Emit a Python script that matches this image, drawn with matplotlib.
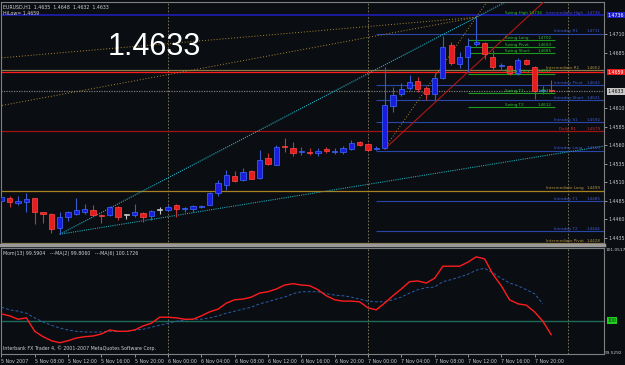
import matplotlib.pyplot as plt
import numpy as np

BG = "#0a0d12"

# EURUSD H1 candles, first bar 5 Nov 04:00
opens = [1.4485, 1.4489, 1.4482, 1.4484, 1.4489, 1.4470, 1.4467, 1.4448, 1.4463, 1.4467,
         1.4470, 1.4473, 1.4466, 1.4466, 1.4477, 1.4466, 1.4466, 1.4469, 1.4465, 1.4473,
         1.4473, 1.4480, 1.4474, 1.4474, 1.4477, 1.4480, 1.4496, 1.4506, 1.4519, 1.4513,
         1.4525, 1.4516, 1.4543, 1.4534, 1.4559, 1.4556, 1.4551, 1.4551, 1.4550, 1.4555,
         1.4551, 1.4551, 1.4555, 1.4565, 1.4562, 1.4555, 1.4556, 1.4613, 1.4629, 1.4637,
         1.4647, 1.4637, 1.4629, 1.4651, 1.4696, 1.4670, 1.4679, 1.4697, 1.4698, 1.4679,
         1.4667, 1.4667, 1.4658, 1.4675, 1.4666, 1.4633, 1.4635]
highs = [1.4492, 1.4492, 1.4492, 1.4496, 1.4489, 1.4470, 1.4469, 1.4470, 1.4471, 1.4489,
         1.4481, 1.4480, 1.4467, 1.4478, 1.4478, 1.4467, 1.4481, 1.4470, 1.4473, 1.4477,
         1.4479, 1.4481, 1.4477, 1.4480, 1.4480, 1.4497, 1.4513, 1.4527, 1.4525, 1.4529,
         1.4527, 1.4554, 1.4550, 1.4560, 1.4570, 1.4565, 1.4558, 1.4556, 1.4556, 1.4558,
         1.4556, 1.4559, 1.4567, 1.4566, 1.4563, 1.4559, 1.4666, 1.4639, 1.4644, 1.4655,
         1.4652, 1.4640, 1.4658, 1.4708, 1.4700, 1.4686, 1.4705, 1.4734, 1.4700, 1.4689,
         1.4671, 1.4669, 1.4678, 1.4677, 1.4667, 1.4640, 1.4648]
lows = [1.4484, 1.4477, 1.4480, 1.4470, 1.4454, 1.4455, 1.4442, 1.4440, 1.4458, 1.4466,
        1.4467, 1.4465, 1.4455, 1.4465, 1.4459, 1.4461, 1.4463, 1.4457, 1.4459, 1.4467,
        1.4472, 1.4463, 1.4470, 1.4470, 1.4476, 1.4479, 1.4492, 1.4500, 1.4511, 1.4512,
        1.4514, 1.4515, 1.4534, 1.4533, 1.4551, 1.4546, 1.4547, 1.4547, 1.4546, 1.4550,
        1.4548, 1.4548, 1.4554, 1.4559, 1.4552, 1.4554, 1.4555, 1.4605, 1.4627, 1.4635,
        1.4632, 1.4621, 1.4621, 1.4650, 1.4669, 1.4664, 1.4659, 1.4694, 1.4677, 1.4662,
        1.4662, 1.4655, 1.4655, 1.4669, 1.4623, 1.4630, 1.4632]
closes = [1.4490, 1.4484, 1.4485, 1.4488, 1.4470, 1.4467, 1.4447, 1.4463, 1.4470, 1.4473,
          1.4474, 1.4466, 1.4465, 1.4477, 1.4463, 1.4466, 1.4470, 1.4463, 1.4472, 1.4473,
          1.4477, 1.4474, 1.4476, 1.4478, 1.4478, 1.4496, 1.4509, 1.4520, 1.4512, 1.4524,
          1.4515, 1.4540, 1.4535, 1.4558, 1.4558, 1.4550, 1.4552, 1.4550, 1.4552, 1.4552,
          1.4552, 1.4556, 1.4563, 1.4560, 1.4554, 1.4556, 1.4614, 1.4628, 1.4636, 1.4646,
          1.4636, 1.4629, 1.4651, 1.4693, 1.4671, 1.4679, 1.4694, 1.4700, 1.4683, 1.4666,
          1.4669, 1.4658, 1.4675, 1.4670, 1.4633, 1.4635, 1.4633]

# momentum pane
mom_ma2 = [100.10, 100.07, 100.02, 100.04, 99.84, 99.76, 99.70, 99.67, 99.70, 99.74,
           99.76, 99.77, 99.80, 99.86, 99.84, 99.84, 99.86, 99.92, 99.96, 100.05,
           100.05, 100.04, 100.02, 100.02, 100.07, 100.13, 100.17, 100.26, 100.31, 100.32,
           100.35, 100.41, 100.43, 100.47, 100.53, 100.55, 100.53, 100.52, 100.46, 100.37,
           100.31, 100.29, 100.29, 100.28, 100.19, 100.16, 100.26, 100.37, 100.47, 100.58,
           100.59, 100.56, 100.63, 100.81, 100.81, 100.81, 100.87, 100.95, 100.92, 100.69,
           100.52, 100.31, 100.25, 100.23, 100.13, 99.99, 99.79]
mom_ma6 = [100.20, 100.16, 100.14, 100.11, 100.04, 99.98, 99.93, 99.89, 99.86, 99.84,
           99.83, 99.83, 99.83, 99.84, 99.84, 99.84, 99.86, 99.87, 99.90, 99.93,
           99.96, 99.99, 100.01, 100.02, 100.02, 100.04, 100.07, 100.11, 100.14, 100.17,
           100.20, 100.25, 100.28, 100.32, 100.35, 100.40, 100.43, 100.43, 100.43, 100.40,
           100.38, 100.37, 100.35, 100.32, 100.29, 100.28, 100.28, 100.31, 100.35, 100.41,
           100.46, 100.49, 100.50, 100.58, 100.61, 100.65, 100.69, 100.75, 100.78, 100.71,
           100.63, 100.56, 100.52, 100.46, 100.40, 100.25, np.nan]

time_labels = ["5 Nov 2007", "5 Nov 08:00", "5 Nov 12:00", "5 Nov 16:00", "5 Nov 20:00",
               "6 Nov 00:00", "6 Nov 04:00", "6 Nov 08:00", "6 Nov 12:00", "6 Nov 16:00",
               "6 Nov 20:00", "7 Nov 00:00", "7 Nov 04:00", "7 Nov 08:00", "7 Nov 12:00",
               "7 Nov 16:00", "7 Nov 20:00"]
time_ticks = list(range(0, 68, 4))
day_breaks = [20, 44, 68]

price_ticks = [1.4710, 1.4685, 1.4610, 1.4585, 1.4560, 1.4535, 1.4510, 1.4485, 1.4460, 1.4435]

full_levels = [("Intermediate High", 1.4736, "#1e1eb4"),
               ("Intermediate R1", 1.4662, "#8a7a48"),
               ("", 1.4659, "#ff1c1c"),
               ("", 1.4633, "#7c7c7c"),
               ("Daily R1", 1.4579, "#a01414"),
               ("Intermediate Long", 1.4499, "#a88420"),
               ("Intermediate Pivot", 1.4428, "#8a7a48")]
intraday_names = ["Intraday R1", "Intraday Pivot", "Intraday Short", "Intraday S1",
                  "Intraday Long", "Intraday T1", "Intraday T2"]
intraday_prices = [1.4711, 1.4642, 1.4621, 1.4592, 1.4553, 1.4485, 1.4444]
swing_names = ["Swing High", "Swing Long", "Swing Pivot", "Swing Short", "Swing Entry",
               "Swing T1", "Swing T2"]
swing_prices = [1.4736, 1.4702, 1.4693, 1.4685, 1.4657, 1.4631, 1.4612]

X0, X1 = -0.05, 72.34
Y0, Y1 = 1.44255, 1.47536
FS = 3.0     # level label size
AFS = 3.4    # axis text size

fig = plt.figure(figsize=(6.25, 3.65), dpi=100, facecolor=BG)
ax = fig.add_axes([1 / 625, 1 - 245 / 365, 603 / 625, 243 / 365], facecolor=BG)
ax2 = fig.add_axes([1 / 625, 1 - 354 / 365, 603 / 625, 106 / 365], facecolor=BG)

for a in (ax, ax2):
    for s in a.spines.values():
        s.set_color("#808080")
        s.set_linewidth(0.8)
    a.set_xlim(X0, X1)
    for d in day_breaks:
        a.axvline(d, color="#8c8466", lw=0.6, ls=(0, (2, 2)), zorder=1)
ax.spines["bottom"].set_linewidth(2.5)
ax.spines["bottom"].set_color("#9a9a9a")
ax.set_ylim(Y0, Y1)

# level lines
for name, p, c in full_levels:
    ax.axhline(p, color=c, lw=1.2 if c == "#1e1eb4" else 0.9,
               ls=(0, (1, 1)) if c == "#7c7c7c" else "-", zorder=2)
    if name:
        tc = "#c83030" if "Daily" in name else ("#4a4ad0" if "High" in name else "#b09040")
        ax.text(66.9 if "Daily" in name else 65.4, p + 0.00002, name, color=tc, fontsize=FS,
                va="bottom", ha="left", zorder=6)
        ax.text(71.9, p + 0.00002, f"{p:.4f}", color=tc, fontsize=FS, va="bottom", ha="right", zorder=6)
for name, p in zip(intraday_names, intraday_prices):
    ax.hlines(p, 45, X1, color="#2a46a8", lw=0.8, zorder=2)
    ax.text(66.3, p + 0.00002, name, color="#3a5ad0", fontsize=FS, va="bottom", ha="left", zorder=6)
    ax.text(71.9, p + 0.00002, f"{p:.4f}", color="#3a5ad0", fontsize=FS, va="bottom", ha="right", zorder=6)
for name, p in zip(swing_names, swing_prices):
    if name != "Swing High":
        ax.hlines(p, 56, 66.4, color="#1c9a1c", lw=0.8, zorder=2)
    ax.text(60.5, p + 0.00002, name, color="#2cc02c", fontsize=FS, va="bottom", ha="left", zorder=6)
    ax.text(65.0 if name == "Swing High" else 66.1, p + 0.00002, f"{p:.4f}", color="#2cc02c",
            fontsize=FS, va="bottom", ha="right", zorder=6)

# trend lines and fans
def ray(p0, p1, x_end, **kw):
    slope = (p1[1] - p0[1]) / (p1[0] - p0[0])
    ax.plot([p0[0], x_end], [p0[1], p0[1] + slope * (x_end - p0[0])], **kw)

ray((7, 1.4440), (57, 1.4733), X1, color="#22b4c8", lw=0.8, ls=(0, (1, 1)), zorder=3)
ray((7, 1.4440), (72.3, 1.4559), X1, color="#1ca6b0", lw=0.8, ls=(0, (1, 1)), zorder=3)
ray((46, 1.4555), (56, 1.4659), X1, color="#b01818", lw=0.8, zorder=3)
ray((57, 1.4733), (-0.2, 1.4678), X0, color="#b08a30", lw=0.7, ls=(0, (1, 2)), zorder=3)
ray((57, 1.4733), (17.8, 1.4651), X0, color="#b08a30", lw=0.7, ls=(0, (1, 2)), zorder=3)
ray((46, 1.4556), (57, 1.4733), 60, color="#b08a30", lw=0.7, ls=(0, (1, 2)), zorder=3)

# candles
for i, (o, h, l, c) in enumerate(zip(opens, highs, lows, closes)):
    if c > o:
        body, edge, wick = "#1c1ce0", "#3c6cff", "#3a5ad0"
    elif c < o:
        body, edge, wick = "#e81c1c", "#ff4a4a", "#c83434"
    else:
        body, edge, wick = "#c8c8c8", "#c8c8c8", "#c8c8c8"
    ax.vlines(i, l, h, color=wick, lw=0.8, zorder=4)
    hgt = max(abs(c - o), 0.00008)
    ax.bar(i, hgt, bottom=min(o, c), width=0.62, color=body, edgecolor=edge, lw=0.5, zorder=5)

ax.set_xticks([])
ax.yaxis.tick_right()
ax.set_yticks(price_ticks)
ax.set_yticklabels([f"{p:.4f}" for p in price_ticks])
ax.tick_params(axis="y", labelsize=AFS, colors="#c8c8c8", length=2, pad=1, width=0.5)

box = dict(boxstyle="square,pad=0.15", lw=0)
for p, fc, tc in [(1.4736, "#1e1ec8", "white"), (1.4659, "#e81c1c", "white"), (1.4633, "#c8c8c8", "#101010")]:
    ax.text(1.006, p, f"{p:.4f}", transform=ax.get_yaxis_transform(), fontsize=AFS, color=tc,
            va="center", ha="left", bbox=dict(box, fc=fc), zorder=7, clip_on=False)

ax.text(0.004, 0.988, "EURUSD,H1  1.4635  1.4648  1.4632  1.4633", transform=ax.transAxes,
        fontsize=AFS, color="#d0d0d0", va="top")
ax.text(0.004, 0.962, "HiLow= 1.4659", transform=ax.transAxes, fontsize=AFS, color="#d0d0d0", va="top")
ax.text(107 / 603, 1 - 45 / 243, "1.4633", transform=ax.transAxes, fontsize=22,
        family="Liberation Sans", color="white", va="center", ha="left")

# momentum pane
ax2.set_ylim(99.502, 101.0815)
ax2.axhline(100, color="#1e6a58", lw=1.0, zorder=2)
ax2.plot(range(len(mom_ma6)), mom_ma6, color="#2a5fa8", lw=0.7, ls=(0, (3, 2)), zorder=3)
ax2.plot(range(len(mom_ma2)), mom_ma2, color="#ff1c1c", lw=1.0, zorder=4)
ax2.yaxis.tick_right()
ax2.set_yticks([101.0517, 99.5292])
ax2.set_yticklabels(["101.0517", "99.5292"])
ax2.tick_params(axis="y", labelsize=3.1, colors="#c8c8c8", length=0, pad=0.8)
ax2.text(1.006, 100, "100", transform=ax2.get_yaxis_transform(), fontsize=AFS, color="#0a300a",
         va="center", ha="left", bbox=dict(box, fc="#20d020"), zorder=7, clip_on=False)
ax2.set_xticks(time_ticks)
ax2.set_xticklabels(time_labels, ha="left")
ax2.tick_params(axis="x", labelsize=3.4, colors="#c8c8c8", length=2, pad=1.5, width=0.5)
ax2.text(0.004, 0.97, "Mom(13) 99.5904   ---MA(2) 99.8060   ---MA(6) 100.1726", transform=ax2.transAxes,
         fontsize=AFS, color="#d0d0d0", va="top")
ax2.text(0.004, 0.03, "Interbank FX Trader 4, \u00a9 2001-2007 MetaQuotes Software Corp.",
         transform=ax2.transAxes, fontsize=AFS, color="#d0d0d0", va="bottom")

fig.savefig("out.png", dpi=100, facecolor=BG)
